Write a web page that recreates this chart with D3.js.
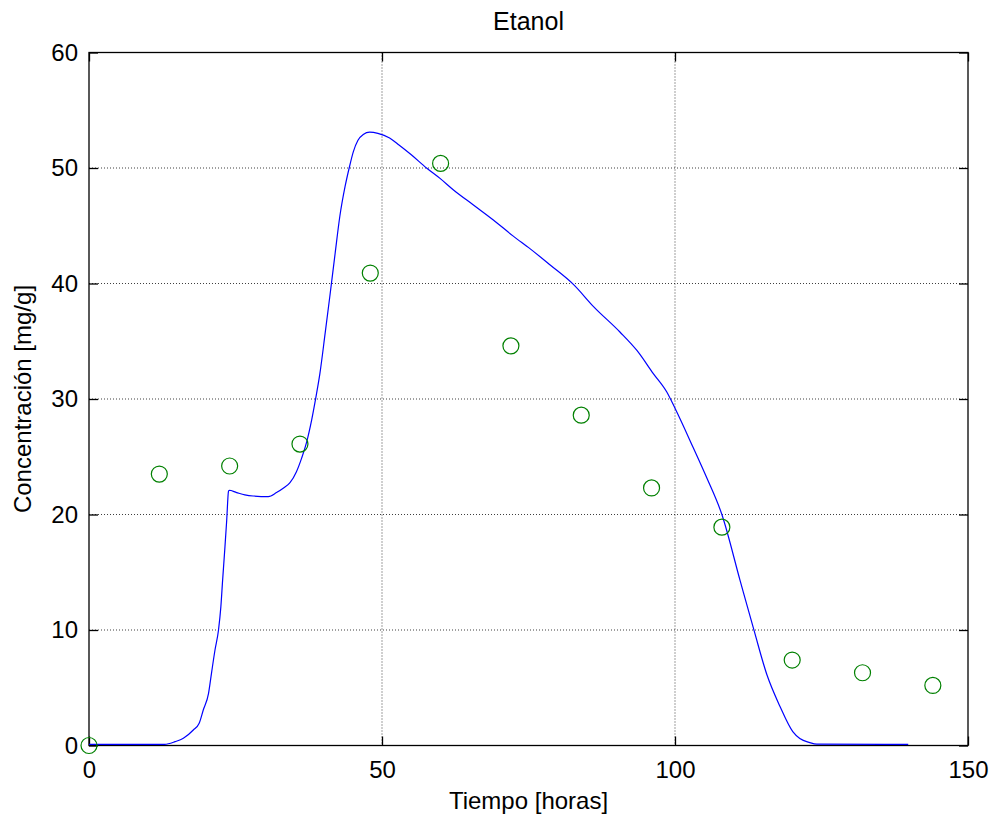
<!DOCTYPE html>
<html>
<head>
<meta charset="utf-8">
<script src="https://cdn.jsdelivr.net/npm/d3@7"></script>
<style>
  body { margin: 0; background: #fff; }
  text { font-family: "Liberation Sans", Arial, Helvetica, sans-serif; }
</style>
</head>
<body>
<div id="chart"></div>
<script>
// Model curve (time in hours, concentration mg/g)
var curveT = [0, 12.9, 14.7, 16.1, 17.8, 18.8, 19.5, 20.4, 20.9, 21.5, 22.1, 22.5, 22.8, 23.2, 23.5, 23.8, 23.9,
  25.2, 26.6, 28.0, 30.6, 32.0, 33.2, 34.3, 35.4, 36.3, 37.1, 38.0, 38.7, 39.4, 40.3, 41.1, 42.0, 42.8, 43.7,
  44.4, 45.1, 45.9, 46.8, 47.9, 49.3, 51.3, 52.9, 55.0, 57.6, 59.9, 62.2, 65.6, 69.0, 72.4, 75.3, 78.7, 82.7,
  86.1, 90.6, 93.5, 96.3, 98.6, 100.0, 103.1, 105.4, 108.0, 111.1, 113.5, 115.7, 117.9, 120.1, 121.3, 123.0,
  124.2, 139.8]
var curveC = [0.1, 0.1, 0.33, 0.62, 1.34, 1.92, 3.07, 4.52, 6.25, 8.27, 10.0, 12.0, 14.3, 17.2, 19.5, 22.0, 22.1,
  21.9, 21.7, 21.6, 21.55, 21.9, 22.3, 22.75, 23.7, 24.9, 26.2, 28.2, 30.1, 32.2, 35.7, 38.9, 42.6, 45.8, 48.4,
  50.0, 51.4, 52.4, 52.9, 53.1, 53.0, 52.6, 52.0, 51.15, 50.0, 49.1, 48.1, 46.8, 45.5, 44.1, 43.0, 41.6, 39.9,
  38.0, 35.8, 34.2, 32.2, 30.6, 29.2, 25.8, 23.2, 20.0, 14.3, 9.94, 6.1, 3.4, 1.2, 0.6, 0.25,
  0.12, 0.1]

// Measured points
var obsT = [0, 12, 24, 36, 48, 60, 72, 84, 96, 108, 120, 132, 144]
var obsC = [0, 23.5, 24.2, 26.1, 40.9, 50.4, 34.6, 28.6, 22.3, 18.9, 7.4, 6.3, 5.2]

var xTicks = [0, 50, 100, 150]
var yTicks = [0, 10, 20, 30, 40, 50, 60]

var width = 994, height = 816
var pLeft = 89, pRight = 968, pTop = 52.5, pBottom = 745.5
var tickLen = 9

var svg = d3.select('#chart').append('svg')
  .attr('width', width)
  .attr('height', height)
  .style('background', '#fff')

var x = d3.scaleLinear().domain([0, 150]).range([pLeft, pRight])
var y = d3.scaleLinear().domain([0, 60]).range([pBottom, pTop])

// grid
svg.append('g').selectAll('line')
  .data(xTicks.slice(1, -1))
  .enter().append('line')
  .attr('x1', d => x(d)).attr('x2', d => x(d))
  .attr('y1', pTop).attr('y2', pBottom)
  .attr('stroke', '#000').attr('stroke-width', 1)
  .attr('stroke-dasharray', '1,2').attr('opacity', 0.75)

svg.append('g').selectAll('line')
  .data(yTicks.slice(1, -1))
  .enter().append('line')
  .attr('y1', d => y(d)).attr('y2', d => y(d))
  .attr('x1', pLeft).attr('x2', pRight)
  .attr('stroke', '#000').attr('stroke-width', 1)
  .attr('stroke-dasharray', '1,2').attr('opacity', 0.75)

// axes
svg.append('g')
  .attr('transform', 'translate(0,' + pBottom + ')')
  .call(d3.axisBottom(x).tickValues(xTicks).tickSizeInner(-tickLen).tickSizeOuter(0).tickPadding(15))
svg.append('g')
  .attr('transform', 'translate(0,' + pTop + ')')
  .call(d3.axisTop(x).tickValues(xTicks).tickSizeInner(-tickLen).tickSizeOuter(0).tickFormat(''))
svg.append('g')
  .attr('transform', 'translate(' + pLeft + ',0)')
  .call(d3.axisLeft(y).tickValues(yTicks).tickSizeInner(-tickLen).tickSizeOuter(0).tickPadding(11))
svg.append('g')
  .attr('transform', 'translate(' + pRight + ',0)')
  .call(d3.axisRight(y).tickValues(yTicks).tickSizeInner(-tickLen).tickSizeOuter(0).tickFormat(''))

svg.selectAll('.domain').remove()
svg.selectAll('.tick line').attr('stroke', '#000').attr('stroke-width', 1.3)
svg.selectAll('.tick text')
  .attr('fill', '#000')
  .style('font-size', '24px')
  .style('font-family', '"Liberation Sans", Arial, sans-serif')

// frame
svg.append('rect')
  .attr('x', pLeft).attr('y', pTop)
  .attr('width', pRight - pLeft).attr('height', pBottom - pTop)
  .attr('fill', 'none').attr('stroke', '#000').attr('stroke-width', 1.3)

// model line
var curve = curveT.map((t, i) => ({t: t, c: curveC[i]}))
svg.append('path')
  .datum(curve)
  .attr('fill', 'none')
  .attr('stroke', '#0000ff')
  .attr('stroke-width', 1.2)
  .attr('d', d3.line().curve(d3.curveMonotoneX).x(d => x(d.t)).y(d => y(d.c)))

// observed circles
var obs = obsT.map((t, i) => ({t: t, c: obsC[i]}))
svg.append('g').selectAll('circle')
  .data(obs)
  .enter().append('circle')
  .attr('cx', d => x(d.t))
  .attr('cy', d => y(d.c))
  .attr('r', 8)
  .attr('fill', 'none')
  .attr('stroke', '#008000')
  .attr('stroke-width', 1.2)

// title
svg.append('text')
  .attr('x', (pLeft + pRight) / 2)
  .attr('y', 30)
  .attr('text-anchor', 'middle')
  .style('font-size', '25px')
  .text('Etanol')

// x label
svg.append('text')
  .attr('x', (pLeft + pRight) / 2)
  .attr('y', 809)
  .attr('text-anchor', 'middle')
  .style('font-size', '24px')
  .text('Tiempo [horas]')

// y label
svg.append('text')
  .attr('transform', 'translate(31,' + ((pTop + pBottom) / 2) + ')rotate(-90)')
  .attr('text-anchor', 'middle')
  .style('font-size', '24px')
  .text('Concentración [mg/g]')
</script>
</body>
</html>
